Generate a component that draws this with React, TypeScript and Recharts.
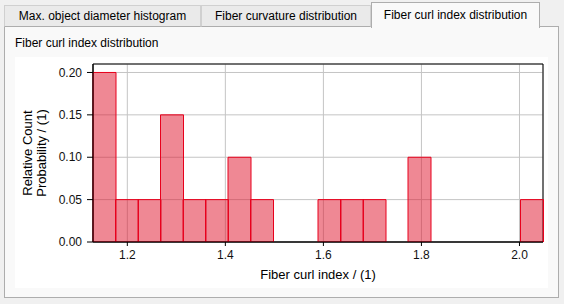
import React from "react";
import {
  ComposedChart,
  Bar,
  XAxis,
  YAxis,
  CartesianGrid,
  ReferenceArea,
} from "recharts";

// bin centres of the curl index histogram (20 bins)
const binCenters = [
  1.153, 1.199, 1.245, 1.291, 1.337, 1.383, 1.428, 1.474, 1.52, 1.566,
  1.612, 1.658, 1.704, 1.75, 1.796, 1.842, 1.888, 1.933, 1.979, 2.025,
];
const probabilities = [
  0.2, 0.05, 0.05, 0.15, 0.05, 0.05, 0.1, 0.05, 0, 0,
  0.05, 0.05, 0.05, 0, 0.1, 0, 0, 0, 0, 0.05,
];
const xDomain = [1.13, 2.048];
const xTicks = [1.2, 1.4, 1.6, 1.8, 2.0];
const yTicks = [0, 0.05, 0.1, 0.15, 0.2];
const yMax = 0.21;
const tabs = ["Max. object diameter histogram", "Fiber curvature distribution", "Fiber curl index distribution"];

const data = binCenters.map((x, i) => ({ bin: String(i), x, p: probabilities[i] }));

const uiFont = "'Liberation Sans', Arial, sans-serif";

const YLabel = (props: any) => {
  const vb = props.viewBox || {};
  const cy = (vb.y ?? 0) + (vb.height ?? 0) / 2;
  const lines = [
    { text: "Relative Count", x: 16.5 },
    { text: "Probability / (1)", x: 31 },
  ];
  return (
    <g>
      {lines.map((l) => (
        <text
          key={l.text}
          x={l.x}
          y={cy}
          transform={`rotate(-90, ${l.x}, ${cy})`}
          textAnchor="middle"
          fontSize={13}
          fill="#000"
          fontFamily={uiFont}
        >
          {l.text}
        </text>
      ))}
    </g>
  );
};

const tabPos = [
  { left: 4, width: 197, top: 5 },
  { left: 201, width: 170, top: 5 },
  { left: 371, width: 169, top: 2 },
];

export default function App() {
  return (
    <div
      style={{
        position: "absolute",
        left: 0,
        top: 0,
        width: 564,
        height: 304,
        background: "#f0f0f0",
        fontFamily: uiFont,
        fontSize: 12,
        overflow: "hidden",
      }}
    >
      {/* tab panel */}
      <div
        style={{
          position: "absolute",
          left: 4,
          top: 26,
          width: 555,
          height: 272,
          border: "1px solid #adadad",
          background: "#f9f9f9",
          boxSizing: "border-box",
        }}
      />
      {tabs.map((t, i) => {
        const sel = i === 2;
        const p = tabPos[i];
        return (
          <div
            key={t}
            style={{
              position: "absolute",
              left: p.left,
              top: p.top,
              width: p.width,
              height: 27 - p.top + (sel ? 1 : 0),
              boxSizing: "border-box",
              border: `1px solid ${sel ? "#adadad" : "#d0d0d0"}`,
              borderBottom: sel ? "none" : "1px solid #adadad",
              background: sel ? "#f9f9f9" : "#eaeaea",
              textAlign: "center",
              lineHeight: sel ? "24px" : "21px",
              color: "#000",
              zIndex: sel ? 2 : 1,
            }}
          >
            {t}
          </div>
        );
      })}
      <div style={{ position: "absolute", left: 15, top: 36, color: "#000" }}>Fiber curl index distribution</div>
      <div style={{ position: "absolute", left: 15, top: 57, width: 533, height: 231, background: "#ffffff" }}>
        <ComposedChart
          width={533}
          height={231}
          data={data}
          barCategoryGap={0}
          barGap={0}
          margin={{ top: 7, right: 5, bottom: 0, left: 0 }}
        >
          <CartesianGrid xAxisId="num" stroke="#c4c4c4" strokeWidth={1} />
          <XAxis
            xAxisId="num"
            dataKey="x"
            type="number"
            domain={xDomain}
            ticks={xTicks}
            allowDataOverflow
            height={46}
            tickSize={4}
            tickMargin={4}
            tickFormatter={(v: number) => v.toFixed(1)}
            tick={{ fill: "#111", fontSize: 12, fontFamily: uiFont }}
            stroke="#000"
            label={{ value: "Fiber curl index / (1)", position: "insideBottom", offset: 9, fill: "#000", fontSize: 13, fontFamily: uiFont }}
          />
          <XAxis xAxisId="bins" dataKey="bin" type="category" hide height={0} padding={{ left: 0, right: 0 }} />
          <YAxis
            type="number"
            domain={[0, yMax]}
            ticks={yTicks}
            width={78}
            allowDataOverflow
            tickSize={6}
            tickMargin={5}
            tickFormatter={(v: number) => v.toFixed(2)}
            tick={{ fill: "#111", fontSize: 12, fontFamily: uiFont }}
            stroke="#000"
            label={<YLabel />}
          />
          <Bar
            xAxisId="bins"
            dataKey="p"
            fill="#e0122a"
            fillOpacity={0.5}
            stroke="#e8001c"
            strokeWidth={1}
            isAnimationActive={false}
          />
          <ReferenceArea
            xAxisId="num"
            x1={xDomain[0]}
            x2={xDomain[1]}
            y1={0}
            y2={yMax}
            fill="none"
            stroke="#000"
            strokeWidth={1}
            ifOverflow="visible"
          />
        </ComposedChart>
      </div>
    </div>
  );
}
